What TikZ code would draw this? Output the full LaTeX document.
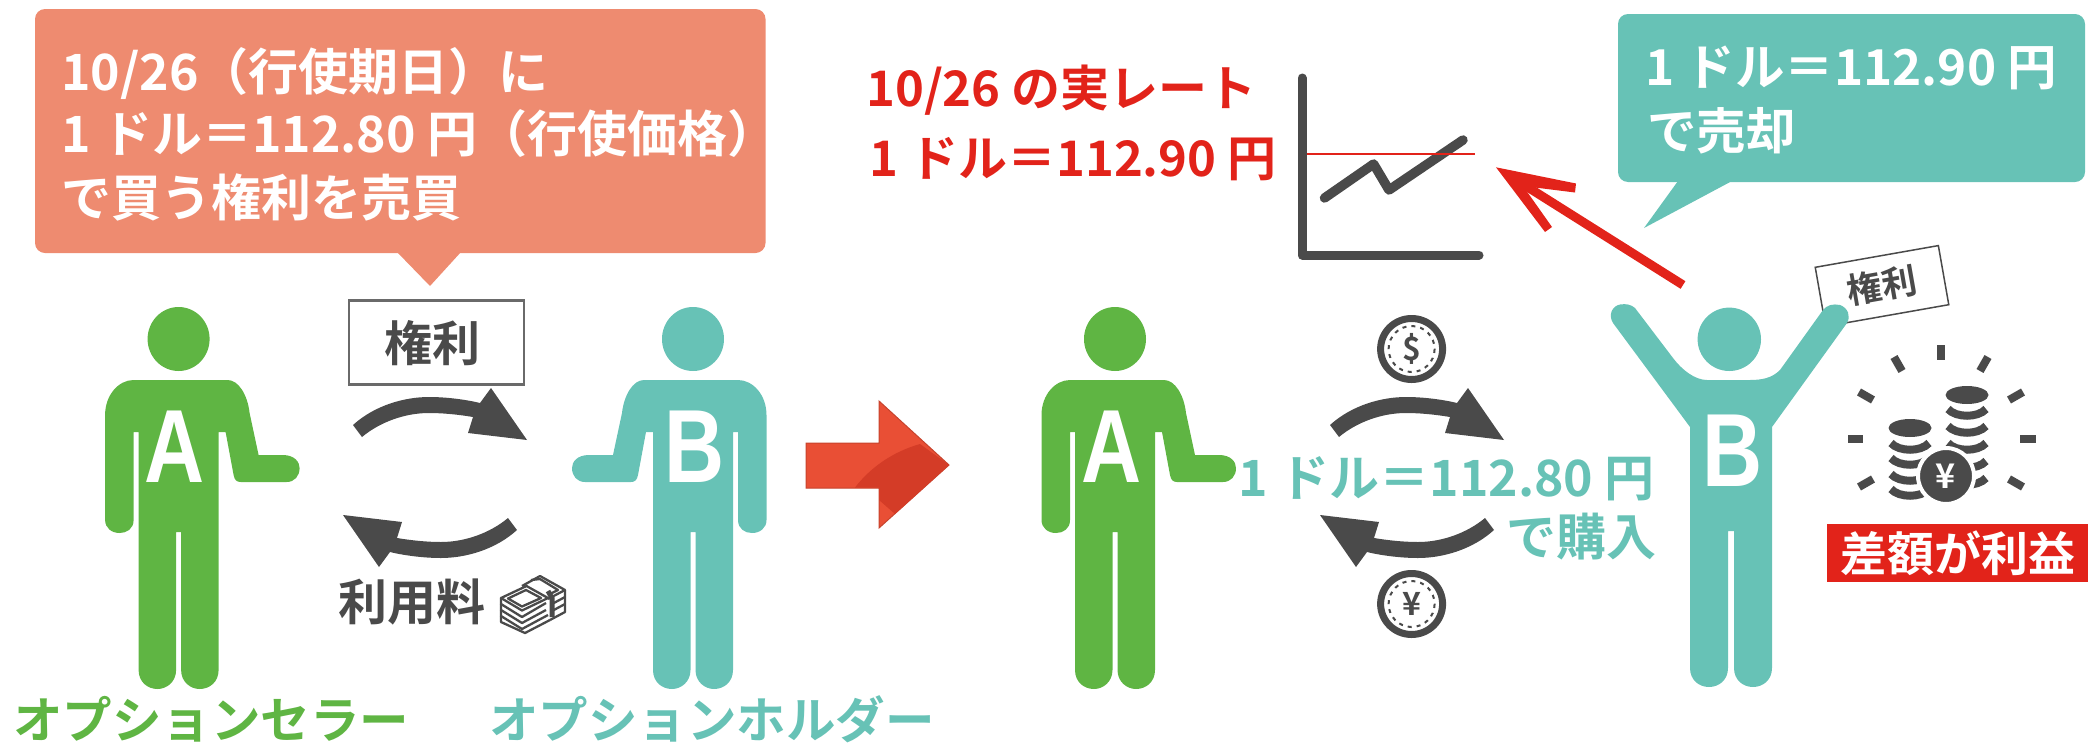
\documentclass[tikz,border=0pt]{standalone}
\usepackage{fontspec}
\newfontfamily\jp{Noto Sans CJK JP}[BoldFont={Noto Sans CJK JP Bold}]
\newfontfamily\latinb{Liberation Sans Bold}
\definecolor{pgreen}{HTML}{5FB543}
\definecolor{pteal}{HTML}{67C2B6}
\definecolor{pdark}{HTML}{4A4A4A}
\definecolor{pred}{HTML}{E2231A}
\definecolor{psalmon}{HTML}{EE8B70}
\definecolor{parrow}{HTML}{E94F35}
\definecolor{parrowd}{HTML}{D43C27}
\definecolor{pbox}{HTML}{6A6A6A}
\tikzset{
  jptext/.style={inner sep=0pt,font={\jp\bfseries\fontsize{#1}{#1}\selectfont}},
  initial/.style={inner sep=0pt,text=white,xscale=0.8,font={\latinb\fontsize{104}{104}\selectfont}},
  coinring/.style={draw=pdark,fill=white,line width=7pt},
  coindash/.style={draw=pdark,line width=2pt,dash pattern=on 4pt off 5pt},
  ray/.style={draw=pdark,line width=8pt},
  band/.style={draw=pdark,line width=8pt},
  billline/.style={draw=pdark,line width=2.3pt,line join=round},
}
\newcommand{\personpath}{
 (-2.5,532) -- (-2.5,670) .. controls (-2.5,682) and (-12,689) .. (-21,689)
 .. controls (-31,689) and (-40,682) .. (-40,670) -- (-40,432) -- (-45,432) -- (-45,520)
 .. controls (-45,529) and (-52,533) .. (-59,533) .. controls (-67,533) and (-73.5,528) .. (-73.5,520)
 -- (-73.5,415) .. controls (-73.5,395) and (-60,380) .. (-45,380) -- (49,380)
 .. controls (60,380) and (69,395) .. (71,413) -- (80,455) -- (104,455)
 .. controls (116,455) and (121,462) .. (121,468) .. controls (121,476) and (116,482) .. (108,482)
 -- (62,482) .. controls (58,482) and (56,480) .. (55,475) -- (47,432) -- (40,432) -- (40,670)
 .. controls (40,682) and (31,689) .. (21,689) .. controls (12,689) and (2.5,682) .. (2.5,670) -- (2.5,532) -- cycle
}
\newcommand{\swoosh}{
 (353,425) .. controls (375,405) and (405,397) .. (429,397) .. controls (448,397) and (468,400) .. (480,403)
 -- (491,388) -- (527,440) -- (468,433) -- (473,417) .. controls (455,414) and (440,413) .. (429,413)
 .. controls (405,413) and (380,422) .. (362,437) -- cycle
}
\begin{document}
\begin{tikzpicture}[x=1pt,y=-1pt]
\useasboundingbox (0,0) rectangle (2099,742);
% left callout
\fill[psalmon,rounded corners=10pt] (35,9) rectangle (765.5,253);
\fill[psalmon] (397,252) -- (430,286) -- (461,252) -- cycle;
\node[jptext=50,text=white,anchor=base west] (c1) at (61,90) {10/26（行使期日）に};
\node[jptext=50,text=white,anchor=base west] (c2) at (61,152) {1 ドル＝112.80 円（行使価格）};
\node[jptext=50,text=white,anchor=base west] (c3) at (61,216) {で買う権利を売買};
% persons
\fill[pgreen] (178.6,339) ellipse [x radius=31,y radius=32];
\begin{scope}[shift={(178.6,0)}]\fill[pgreen] \personpath;\end{scope}
\node[initial,anchor=base] (pa1) at (175,482) {A};
\fill[pteal] (693,339) ellipse [x radius=31,y radius=32];
\begin{scope}[shift={(693,0)},xscale=-1]\fill[pteal] \personpath;\end{scope}
\node[initial,anchor=base] (pb1) at (695,482) {B};
\fill[pgreen] (1115,339) ellipse [x radius=31,y radius=32];
\begin{scope}[shift={(1115,0)}]\fill[pgreen] \personpath;\end{scope}
\node[initial,anchor=base] (pa2) at (1111.5,482) {A};
% left exchange
\node[draw=pbox,line width=2.5pt,minimum width=175pt,minimum height=84pt,inner sep=0pt] (right1) at (436.5,342.5) {};
\node[jptext=48,text=pdark,anchor=base] (right1t) at (432,361) {権利};
\fill[pdark] \swoosh;
\begin{scope}[rotate around={180:(435,477.5)}]\fill[pdark] \swoosh;\end{scope}
\node[jptext=49,text=pdark,anchor=base west] (fee) at (338,620) {利用料};
% bills
\begin{scope}[shift={(490,565)}]
\draw[billline] (11,33) -- (36.5,21) -- (58,33) -- (32,45.5) -- cycle;
\draw[billline] (18,33.5) -- (36,25) -- (51,33) -- (32,41.5) -- cycle;
\draw[billline] (11,33) -- (11,39) -- (32,52) -- (56,38);
\draw[billline] (11,39) -- (11,45) -- (32,58) -- (56,45);
\draw[billline] (11,45) -- (11,51) -- (32,64) -- (58,50);
\draw[billline] (11,51) -- (11,57) -- (35,68) -- (60,55);
\draw[billline] (32,21) -- (50,11) -- (75,25) -- (58,34);
\draw[billline] (41,15) -- (50,14) -- (68,25) -- (58,30);
\draw[billline] (75,25) -- (75,47) -- (60,55);
\draw[billline] (62,39) -- (75,32) (62,46) -- (75,39);
\draw[pdark,line width=5pt] (58,26) -- (62,33) -- (62,52);
\end{scope}
% labels under persons
\node[jptext=49.5,text=pgreen,anchor=base west] (seller) at (13,738) {オプションセラー};
\node[jptext=49.5,text=pteal,anchor=base west] (holder) at (489,738) {オプションホルダー};
% big arrow
\fill[parrow,draw=parrow!85!black,line width=1pt] (806,443) -- (879,443) -- (879,401) -- (949,465) -- (879,528) -- (879,488) -- (806,488) -- cycle;
\fill[parrowd] (855,487.5) .. controls (870,468) and (892,452) .. (920,444) -- (949,465) -- (895,514) -- (879,500) -- (879,487.5) -- cycle;
% right exchange
\begin{scope}[xshift=977pt]
\fill[pdark] \swoosh;
\begin{scope}[rotate around={180:(435,477.5)}]\fill[pdark] \swoosh;\end{scope}
\end{scope}
\draw[coinring] (1411.6,349) ellipse [x radius=31,y radius=30.5];
\draw[coindash] (1411.6,349) circle [radius=23];
\node[jptext=32,text=pdark,anchor=center] (dollar) at (1411.6,349) {\$};
\draw[coinring] (1411.6,604) ellipse [x radius=31,y radius=30.5];
\draw[coindash] (1411.6,604) circle [radius=23];
\node[jptext=32,text=pdark,anchor=center] (yen) at (1411.6,604) {¥};
\node[jptext=50,text=pteal,anchor=base east] (buy1) at (1655,496) {1 ドル＝112.80 円};
\node[jptext=50,text=pteal,anchor=base east] (buy2) at (1657,555) {で購入};
% rate text
\node[jptext=49,text=pred,anchor=base west] (r1) at (866,106) {10/26 の実レート};
\node[jptext=49,text=pred,anchor=base west] (r2) at (869,176) {1 ドル＝112.90 円};
% chart
\draw[pdark,line width=9pt,line cap=round,line join=round] (1302,78) -- (1302,255) -- (1479,255);
\draw[pdark,line width=9.5pt,line cap=round,line join=round] (1324.5,198) -- (1373.6,164) -- (1389,190) -- (1463,140);
\draw[pred,line width=2.5pt] (1307,154) -- (1475,154);
% red arrow
\coordinate (atip) at (1496,167.3);
\coordinate (ajoin) at (1510,176);
\coordinate (atail) at (1683,285);
\fill[pred] (atip) -- (1576,183.5) -- (1575,192.5) -- (1523,186) -- (1552,227) -- (1545,232) -- cycle;
\draw[pred,line width=9pt] (ajoin) -- (atail);
% right callout
\fill[pteal,rounded corners=10pt] (1618,14) rectangle (2085,182);
\fill[pteal] (1678,181) -- (1644,228) -- (1732,181) -- cycle;
\node[jptext=49.5,text=white,anchor=base west] (s1) at (1645,85) {1 ドル＝112.90 円};
\node[jptext=49.5,text=white,anchor=base west] (s2) at (1647,149) {で売却};
% tag
\node[draw=pdark,line width=1.5pt,fill=white,minimum width=125pt,minimum height=60pt,rotate=10,inner sep=0pt] (tag) at (1882,286) {};
\node[jptext=35,text=pdark,rotate=10] (tagt) at (1882,285) {権利};
% happy person
\fill[pteal] (1729.3,339.3) circle [radius=31.7];
\fill[pteal] (1728,531) -- (1728,668) .. controls (1728,680) and (1719,687) .. (1709,687)
 .. controls (1699,687) and (1690,680) .. (1690,668) -- (1690,427) -- (1613,323)
 .. controls (1608,315) and (1612,306) .. (1620,304.5) .. controls (1626,303.5) and (1631,304.5) .. (1635,308)
 -- (1673,358) .. controls (1682,370) and (1695,380) .. (1707,380) -- (1750,380)
 .. controls (1762,380) and (1772,378) .. (1780,370) -- (1823,310)
 .. controls (1827,305) and (1833,303.5) .. (1840,305) .. controls (1848,308) and (1851,316) .. (1847,323)
 -- (1772,427) -- (1772,668) .. controls (1772,680) and (1763,687) .. (1753,687)
 .. controls (1743,687) and (1734,680) .. (1734,668) -- (1734,531) -- cycle;
\node[initial,anchor=base] (pb2) at (1733,486) {B};
% coins and rays
\draw[ray] (1941,345) -- (1941,360);
\draw[ray] (1894,357) -- (1902,371);
\draw[ray] (1859,392) -- (1873,400);
\draw[ray] (1848,439) -- (1863,439);
\draw[ray] (1859,487) -- (1873,479);
\draw[ray] (1988,357) -- (1980,371);
\draw[ray] (2023,392) -- (2009,400);
\draw[ray] (2020,439) -- (2036,439);
\draw[ray] (2023,487) -- (2009,479);
\fill[pdark] (1967,395) ellipse [x radius=21.5,y radius=9];
\foreach \yy in {413,430,447,465,482}{
  \draw[band] (1948,\yy-4) .. controls (1956,\yy+5) and (1978,\yy+5) .. (1986,\yy-4);
}
\fill[pdark] (1910,428) ellipse [x radius=21.5,y radius=9];
\foreach \yy in {447,462,478,493}{
  \draw[band] (1891,\yy-4) .. controls (1899,\yy+5) and (1921,\yy+5) .. (1929,\yy-4);
}
\draw[draw=white,line width=4pt,fill=pdark] (1946,476) circle [radius=28];
\node[jptext=34,text=white] (ycoin) at (1946,476) {¥};
% profit label
\node[fill=pred,minimum width=261pt,minimum height=58pt,inner sep=0pt] (prof) at (1957.5,553) {};
\node[jptext=47,text=white] (proft) at (1957.5,553) {差額が利益};
\end{tikzpicture}
\end{document}
